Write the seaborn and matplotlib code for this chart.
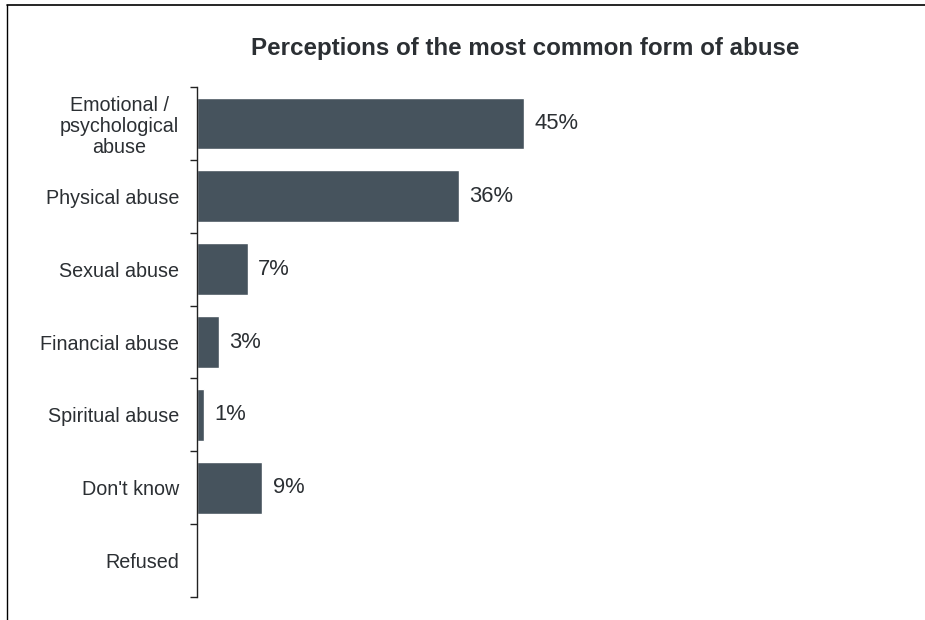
import numpy as np
import pandas as pd
import seaborn as sns
import matplotlib.pyplot as plt
from matplotlib.lines import Line2D
from matplotlib.ticker import FixedLocator

categories = ["Emotional /\npsychological\nabuse", "Physical abuse", "Sexual abuse",
              "Financial abuse", "Spiritual abuse", "Don't know", "Refused"]
values = [45, 36, 7, 3, 1, 9, 0]
value_labels = ["45%", "36%", "7%", "3%", "1%", "9%", ""]

df = pd.DataFrame({"category": categories, "value": values})

sns.set_theme(style="white")
plt.rcParams["font.family"] = ["Liberation Sans", "DejaVu Sans"]
text_col = "#2b2f33"

fig = plt.figure(figsize=(9.25, 6.2), dpi=100)
ax = fig.add_axes([197 / 925, 1 - 597 / 620, 682 / 925, 510 / 620])

sns.barplot(data=df, x="value", y="category", orient="h", color="#46535d",
            saturation=1, width=0.71, ax=ax)
ax.bar_label(ax.containers[0], labels=value_labels, padding=7.5,
             fontsize=15.8, color=text_col)

ax.set_xlim(0, 682 / 7.27)
ax.set_ylim(len(categories) - 0.5, -0.5)
ax.set_xlabel("")
ax.set_ylabel("")
ax.set_xticks([])
for s in ["top", "right", "bottom"]:
    ax.spines[s].set_visible(False)
ax.spines["left"].set_color("#222222")
ax.spines["left"].set_linewidth(1.0)

ax.tick_params(axis="y", which="major", length=0, pad=13, labelsize=14.2,
               labelcolor=text_col)
ax.yaxis.set_minor_locator(FixedLocator(np.arange(-0.5, len(categories), 1)))
ax.tick_params(axis="y", which="minor", left=True, length=5, width=1, color="#222222")
for lab in ax.get_yticklabels():
    lab.set_multialignment("center")
    lab.set_linespacing(1.14)

fig.text(525 / 925, 1 - 48 / 620, "Perceptions of the most common form of abuse",
         ha="center", va="center", fontsize=17.4, fontweight="bold", color=text_col)

fig.add_artist(Line2D([7 / 925, 1], [1 - 5 / 620, 1 - 5 / 620], color="black", lw=1.2))
fig.add_artist(Line2D([7 / 925, 7 / 925], [0, 1 - 5 / 620], color="black", lw=1.0))

fig.savefig("out.png", dpi=100, facecolor="white")
